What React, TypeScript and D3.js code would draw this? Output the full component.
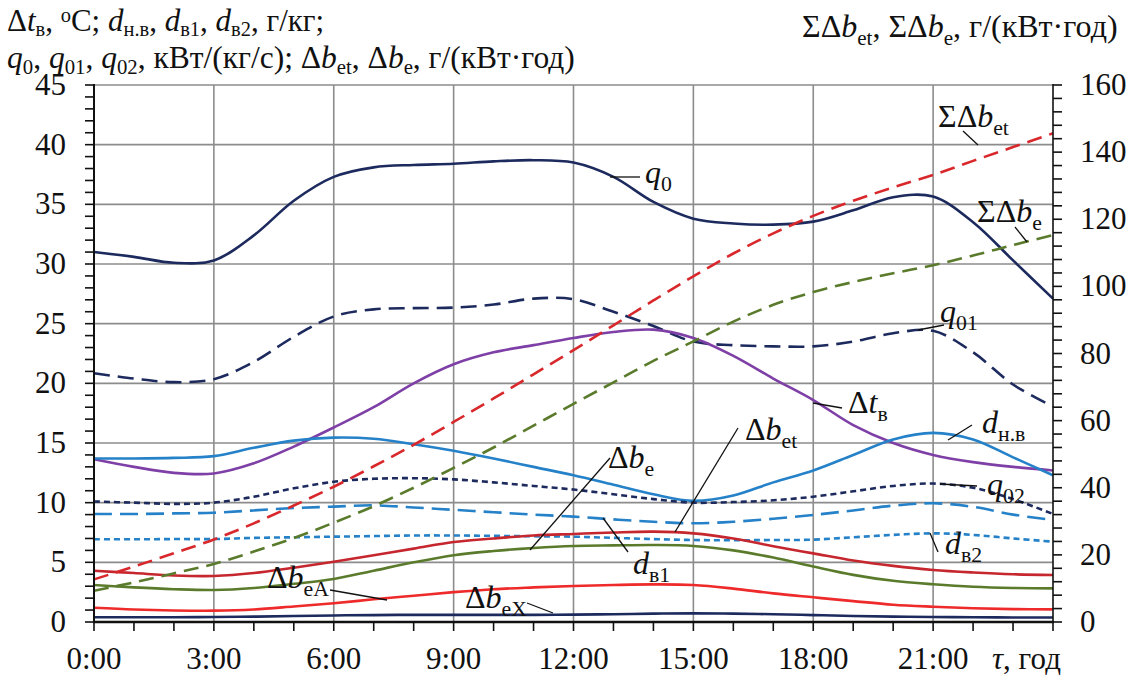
import React from 'react';
import * as d3 from 'd3';

// hours of the day, 0..24
const hours = [0, 1, 2, 3, 4, 5, 6, 7, 8, 9, 10, 11, 12, 13, 14, 15, 16, 17, 18, 19, 20, 21, 22, 23, 24];
const xTickLabels = ['0:00', '3:00', '6:00', '9:00', '12:00', '15:00', '18:00', '21:00'];

// left axis series
const q0 = [31.0, 30.6, 30.1, 30.3, 32.4, 35.3, 37.3, 38.1, 38.3, 38.4, 38.6, 38.7, 38.5, 37.3, 35.2, 33.8, 33.4, 33.3, 33.55, 34.5, 35.6, 35.65, 33.5, 30.3, 27.1];
const q01 = [20.85, 20.4, 20.1, 20.35, 21.8, 23.9, 25.6, 26.2, 26.3, 26.35, 26.6, 27.1, 27.05, 26.0, 24.8, 23.5, 23.2, 23.1, 23.1, 23.5, 24.2, 24.4, 22.6, 19.9, 18.05];
const q02 = [10.1, 10.0, 9.9, 10.0, 10.5, 11.2, 11.75, 12.0, 12.05, 11.95, 11.7, 11.4, 11.1, 10.7, 10.3, 10.0, 10.05, 10.2, 10.5, 10.95, 11.4, 11.6, 11.25, 10.3, 9.05];
const dtV = [13.64, 13.0, 12.5, 12.45, 13.3, 14.7, 16.3, 18.0, 20.0, 21.6, 22.6, 23.2, 23.8, 24.3, 24.5, 23.8, 22.3, 20.4, 18.6, 16.5, 15.0, 14.0, 13.4, 13.0, 12.7];
const dNV = [13.7, 13.7, 13.75, 13.9, 14.6, 15.2, 15.45, 15.35, 14.9, 14.35, 13.7, 13.0, 12.3, 11.5, 10.7, 10.15, 10.6, 11.7, 12.7, 14.0, 15.3, 15.85, 15.3, 13.8, 12.3];
const dV1 = [9.05, 9.05, 9.1, 9.16, 9.35, 9.55, 9.67, 9.78, 9.6, 9.4, 9.2, 9.0, 8.83, 8.6, 8.4, 8.27, 8.4, 8.65, 8.97, 9.35, 9.75, 9.95, 9.65, 9.0, 8.55];
const dV2 = [6.93, 6.93, 6.95, 6.95, 7.05, 7.1, 7.15, 7.2, 7.25, 7.25, 7.22, 7.18, 7.15, 7.05, 6.95, 6.87, 6.85, 6.87, 6.9, 7.1, 7.3, 7.43, 7.3, 7.0, 6.73];
const dbEt = [4.3, 4.1, 3.9, 3.86, 4.1, 4.55, 5.05, 5.6, 6.15, 6.7, 7.0, 7.25, 7.38, 7.5, 7.57, 7.43, 7.0, 6.35, 5.75, 5.15, 4.7, 4.36, 4.15, 4.0, 3.94];
const dbE = [3.1, 2.9, 2.75, 2.68, 2.85, 3.2, 3.6, 4.3, 5.0, 5.6, 5.95, 6.2, 6.37, 6.42, 6.45, 6.37, 6.0, 5.4, 4.65, 3.95, 3.45, 3.16, 2.95, 2.85, 2.82];
const dbEA = [1.2, 1.05, 0.97, 0.95, 1.05, 1.3, 1.57, 1.9, 2.2, 2.5, 2.75, 2.9, 3.02, 3.1, 3.15, 3.1, 2.8, 2.4, 2.07, 1.75, 1.45, 1.28, 1.15, 1.08, 1.06];
const dbEX = [0.4, 0.4, 0.4, 0.42, 0.45, 0.5, 0.55, 0.58, 0.6, 0.6, 0.6, 0.6, 0.62, 0.65, 0.7, 0.72, 0.7, 0.65, 0.58, 0.5, 0.45, 0.42, 0.4, 0.38, 0.38];

// right axis (cumulative) series
const sumDbEt = [12.7, 16.5, 20.5, 24.6, 29.4, 34.7, 40.3, 46.4, 52.8, 59.6, 66.6, 73.8, 81.0, 88.4, 95.8, 103.0, 109.8, 115.8, 121.0, 125.5, 129.5, 133.2, 137.4, 141.5, 145.6];
const sumDbE = [9.3, 11.8, 14.5, 17.3, 21.0, 25.0, 29.6, 34.5, 40.0, 45.9, 52.0, 58.5, 65.0, 71.4, 77.8, 83.6, 89.5, 94.5, 98.3, 101.3, 103.9, 106.3, 109.2, 112.3, 115.3];

const FONT = '"Liberation Serif", "Times New Roman", serif';
const NAVY = '#1d2a5e';
const PURPLE = '#7e3fa6';
const BLUE = '#2581c8';
const DARKRED = '#c6262d';
const RED = '#ee2a2a';
const OLIVE = '#5b7b2c';
const SUMRED = '#d8282c';

const x = d3.scaleLinear().domain([0, 24]).range([94, 1053]);
const yL = d3.scaleLinear().domain([0, 45]).range([622, 85]);
const yR = d3.scaleLinear().domain([0, 160]).range([622, 85]);

// "*" toggles italic, "_" toggles subscript, "^" toggles superscript
const Rich = ({ x, y, text, size, anchor = 'start', sub = 0.68, drop = 0.24 }: { x: number; y: number; text: string; size: number; anchor?: string; sub?: number; drop?: number }) => {
  const parts: { t: string; i: boolean; s: boolean; u: boolean }[] = [];
  let i = false, s = false, u = false, buf = '';
  const flush = () => { if (buf) parts.push({ t: buf, i, s, u }); buf = ''; };
  for (const ch of text) {
    if (ch === '*') { flush(); i = !i; }
    else if (ch === '_') { flush(); s = !s; }
    else if (ch === '^') { flush(); u = !u; }
    else buf += ch;
  }
  flush();
  let shift = 0;
  return (
    <text x={x} y={y} fontFamily={FONT} fontSize={size} textAnchor={anchor} fill="#111">
      {parts.map((p, k) => {
        const target = p.s ? size * drop : p.u ? -size * 0.3 : 0;
        const dy = target - shift;
        shift = target;
        return (
          <tspan key={k} dy={dy} fontStyle={p.i ? 'italic' : 'normal'} fontSize={p.s || p.u ? size * sub : size}>
            {p.t}
          </tspan>
        );
      })}
    </text>
  );
};

const lineL = d3.line<number>().x((_, k) => x(hours[k])).y((d) => yL(d)).curve(d3.curveCatmullRom.alpha(0.5));
const lineR = d3.line<number>().x((_, k) => x(hours[k])).y((d) => yR(d)).curve(d3.curveCatmullRom.alpha(0.5));

const series = [
  { d: q0, c: NAVY, dash: '', r: false },
  { d: q01, c: NAVY, dash: '16 8', r: false },
  { d: dtV, c: PURPLE, dash: '', r: false },
  { d: dNV, c: BLUE, dash: '', r: false },
  { d: q02, c: NAVY, dash: '6 4', r: false },
  { d: dV1, c: BLUE, dash: '18 8', r: false },
  { d: dV2, c: BLUE, dash: '6 4', r: false },
  { d: dbEt, c: DARKRED, dash: '', r: false },
  { d: dbE, c: OLIVE, dash: '', r: false },
  { d: dbEA, c: RED, dash: '', r: false },
  { d: dbEX, c: NAVY, dash: '', r: false },
  { d: sumDbEt, c: SUMRED, dash: '15 8', r: true },
  { d: sumDbE, c: OLIVE, dash: '15 8', r: true },
];

// annotation labels with their leader lines
const labels = [
  { t: '*q*_0_', x: 645, y: 183, l: [610, 177, 640, 177] },
  { t: '*q*_01_', x: 940, y: 322, l: [918, 330, 944, 325] },
  { t: 'ΣΔ*b*_et_', x: 938, y: 127, l: [963, 131, 978, 145] },
  { t: 'ΣΔ*b*_e_', x: 977, y: 222, l: [1015, 227, 1027, 242] },
  { t: 'Δ*t*_в_', x: 848, y: 413, l: [813, 403, 842, 408] },
  { t: '*d*_н.в_', x: 982, y: 433, l: [948, 440, 972, 425] },
  { t: '*q*_02_', x: 987, y: 495, l: [940, 484, 977, 486] },
  { t: '*d*_в2_', x: 945, y: 554, l: [930, 533, 938, 552] },
  { t: 'Δ*b*_et_', x: 745, y: 440, l: [738, 428, 675, 532] },
  { t: 'Δ*b*_e_', x: 608, y: 468, l: [610, 458, 530, 550] },
  { t: '*d*_в1_', x: 633, y: 574, l: [603, 518, 628, 552] },
  { t: 'Δ*b*_eA_', x: 267, y: 588, l: [330, 590, 387, 600] },
  { t: 'Δ*b*_eX_', x: 465, y: 608, l: [527, 603, 553, 613] },
];

const App = () => {
  const hourTicks = d3.range(0, 25, 1);
  const majorX = d3.range(0, 25, 3);
  const leftMinor = d3.range(0, 46, 1);
  const leftMajor = d3.range(0, 46, 5);
  const rightMinor = d3.range(0, 161, 4);
  const rightMajor = d3.range(0, 161, 20);
  return (
    <svg width={1134} height={679} style={{ position: 'absolute', left: 0, top: 0, background: '#fff' }}>
      {/* grid */}
      {leftMajor.slice(1).map((v) => (
        <line key={'h' + v} x1={x(0)} x2={x(24)} y1={yL(v)} y2={yL(v)} stroke="#8c8c8c" strokeWidth={1.6} />
      ))}
      {majorX.slice(1, -1).map((v) => (
        <line key={'v' + v} x1={x(v)} x2={x(v)} y1={yL(0)} y2={yL(45)} stroke="#8c8c8c" strokeWidth={1.6} />
      ))}

      {/* series */}
      {series.map((s, k) => (
        <path key={k} d={(s.r ? lineR : lineL)(s.d) || ''} fill="none" stroke={s.c} strokeWidth={2.6} strokeDasharray={s.dash} />
      ))}

      {/* axes */}
      <line x1={x(0)} x2={x(0)} y1={yL(45) - 1} y2={yL(0)} stroke="#111" strokeWidth={2} />
      <line x1={x(24)} x2={x(24)} y1={yL(45) - 1} y2={yL(0)} stroke="#111" strokeWidth={1.6} />
      <line x1={x(0) - 1} x2={x(24) + 1} y1={yL(0)} y2={yL(0)} stroke="#111" strokeWidth={2.6} />
      {leftMinor.map((v) => (
        <line key={'lm' + v} x1={x(0) - 9} x2={x(0)} y1={yL(v)} y2={yL(v)} stroke="#111" strokeWidth={1.6} />
      ))}
      {rightMinor.map((v) => (
        <line key={'rm' + v} x1={x(24)} x2={x(24) + 9} y1={yR(v)} y2={yR(v)} stroke="#111" strokeWidth={1.6} />
      ))}
      {hourTicks.map((v) => (
        <line key={'xm' + v} x1={x(v)} x2={x(v)} y1={yL(0)} y2={yL(0) + 9} stroke="#111" strokeWidth={1.6} />
      ))}

      {/* tick labels */}
      {leftMajor.map((v) => (
        <text key={'ll' + v} x={66} y={yL(v) + 10} textAnchor="end" fontFamily={FONT} fontSize={31} fill="#111">
          {v}
        </text>
      ))}
      {rightMajor.map((v) => (
        <text key={'rl' + v} x={1080} y={yR(v) + 10} fontFamily={FONT} fontSize={31} fill="#111">
          {v}
        </text>
      ))}
      {xTickLabels.map((t, k) => (
        <text key={'xl' + t} x={x(majorX[k])} y={669} textAnchor="middle" fontFamily={FONT} fontSize={31} fill="#111">
          {t}
        </text>
      ))}
      <Rich x={992} y={669} text="*τ*, год" size={31} />

      {/* axis titles */}
      <Rich x={7} y={31} text="Δ*t*_в_, ^o^C; *d*_н.в_, *d*_в1_, *d*_в2_, г/кг;" size={31} sub={0.66} drop={0.16} />
      <Rich x={7} y={68} text="*q*_0_, *q*_01_, *q*_02_, кВт/(кг/с); Δ*b*_et_, Δ*b*_e_, г/(кВт·год)" size={31.5} sub={0.66} drop={0.2} />
      <Rich x={802} y={37} text="ΣΔ*b*_et_, ΣΔ*b*_e_, г/(кВт·год)" size={32} sub={0.66} />

      {/* annotations */}
      {labels.map((lb, k) => (
        <g key={'an' + k}>
          <line x1={lb.l[0]} y1={lb.l[1]} x2={lb.l[2]} y2={lb.l[3]} stroke="#111" strokeWidth={1.3} />
          <Rich x={lb.x} y={lb.y} text={lb.t} size={32} sub={0.68} />
        </g>
      ))}
    </svg>
  );
};

export default App;
